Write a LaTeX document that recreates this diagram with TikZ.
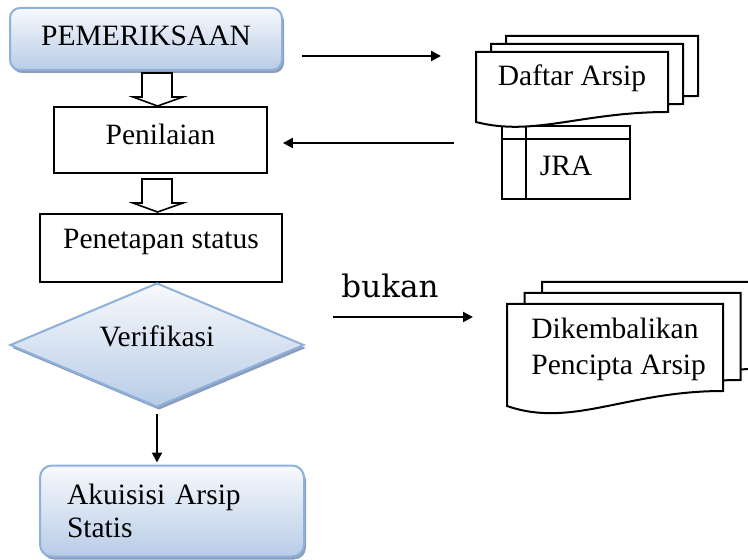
\documentclass[tikz,border=0pt]{standalone}
\usepackage{fontspec}
\setmainfont{Liberation Serif}
\newfontfamily\bukanfont{DejaVu Serif}
\usetikzlibrary{arrows.meta,shapes,shadows,calc,positioning}
\definecolor{garisbiru}{HTML}{8FB0DA}
\definecolor{atas}{HTML}{F7F9FC}
\definecolor{bawah}{HTML}{B8CCE7}
\definecolor{bayang}{HTML}{8B9DBA}

\newcommand{\dokumen}[5]{%
  \filldraw[line width=1pt, fill=white] (#1,#2) -- (#3,#2) -- (#3,#4) .. controls ({(#1)+0.55*((#3)-(#1))},#4) and ({(#1)+0.3*((#3)-(#1))},{(#5)+1.5*((#5)-(#4))}) .. (#1,#5) -- cycle;}
\newcommand{\tumpukan}[7]{%
  \foreach \i in {2,1,0} {\dokumen{#1+\i*#6}{#2-\i*#7}{#3+\i*#6}{#4-\i*#7}{#5-\i*#7}}}

\begin{document}
\begin{tikzpicture}[x=0.5pt, y=-0.5pt]
		\tikzstyle{every node}=[font=\fontsize{14.75}{18}\selectfont]
		\tikzstyle{kotak}=[draw, line width=0.9pt, text height=10pt, inner sep=0pt]
		\tikzstyle{biru}=[draw=garisbiru, line width=1pt, top color=atas, bottom color=bawah, drop shadow={shadow xshift=1pt, shadow yshift=-1.5pt, fill=bayang, opacity=1}]
		\tikzstyle{panah}=[line width=1pt, -{Triangle[length=5pt, width=5pt]}]
		\tikzstyle{kosong}=[line width=0.8pt, fill=white]
		\useasboundingbox (0,0) rectangle (748,560);
		% kolom kiri
		\node [biru, rounded corners=5pt, minimum width=136pt, minimum height=31pt, text height=10pt, text depth=3.2pt, inner sep=0pt] (pemeriksaan) at (146,39) {PEMERIKSAAN};
		\node [kotak, minimum width=106.5pt, minimum height=33pt, text depth=5.2pt] (penilaian) at (160.5,140) {Penilaian};
		\node [kotak, minimum width=121pt, minimum height=34pt, text depth=9.2pt] (penetapan) at (161,248) {Penetapan status};
		\node [biru, diamond, aspect=2.4, minimum width=147pt, minimum height=62pt, inner sep=0pt, text height=10pt, text depth=8.2pt] (verifikasi) at (157,345) {Verifikasi};
		\node [biru, rounded corners=6pt, minimum width=132pt, minimum height=45.5pt, text width=105pt, align=left, inner xsep=13.5pt, inner ysep=0pt, font=\fontsize{14.75}{16.5}\selectfont] (akuisisi) at (172,511) {Akuisisi Arsip\\Statis};
		\foreach \y in {73,179}
			\draw [kosong] (142,\y) -- (172,\y) -- (172,\y+24) -- (183,\y+24) -- (157.5,\y+33) -- (133,\y+24) -- (142,\y+24) -- cycle;
		\draw [panah, shorten <=3pt, shorten >=1pt] (verifikasi.south) -- (verifikasi.south |- akuisisi.north);
		% kolom kanan
		\node [kotak, minimum width=64pt, minimum height=36.5pt, text height=13.3pt, text depth=0pt] (jra) at (566,162.5) {JRA};
		\draw [line width=0.9pt] ([xshift=12.5pt]jra.north west) -- ([xshift=12.5pt]jra.south west);
		\draw [line width=0.9pt] ([yshift=-7pt]jra.north west) -- ([yshift=-7pt]jra.north east);
		\tumpukan{476}{52}{668}{112}{122}{15}{8}
		\node (daftar) at (572,78) {Daftar Arsip};
		\tumpukan{507}{304}{723}{391}{406}{17.5}{11}
		\node [anchor=north west, align=left, inner sep=0pt] (dikembalikan) at (531,318) {Dikembalikan\\Pencipta Arsip};
		% panah
		\coordinate (k1) at (302,56);
		\coordinate (k2) at (441,56);
		\draw [panah] (k1) -- (k2);
		\coordinate (j1) at (454,143);
		\draw [panah, shorten >=7.5pt] (j1) -- (j1 -| penilaian.east);
		\node [font=\bukanfont\fontsize{15.5}{18}\selectfont] (bukan) at (390,286) {bukan};
		\coordinate (b1) at (333,317);
		\coordinate (b2) at (473,317);
		\draw [panah] (b1) -- (b2);
\end{tikzpicture}
\end{document}
